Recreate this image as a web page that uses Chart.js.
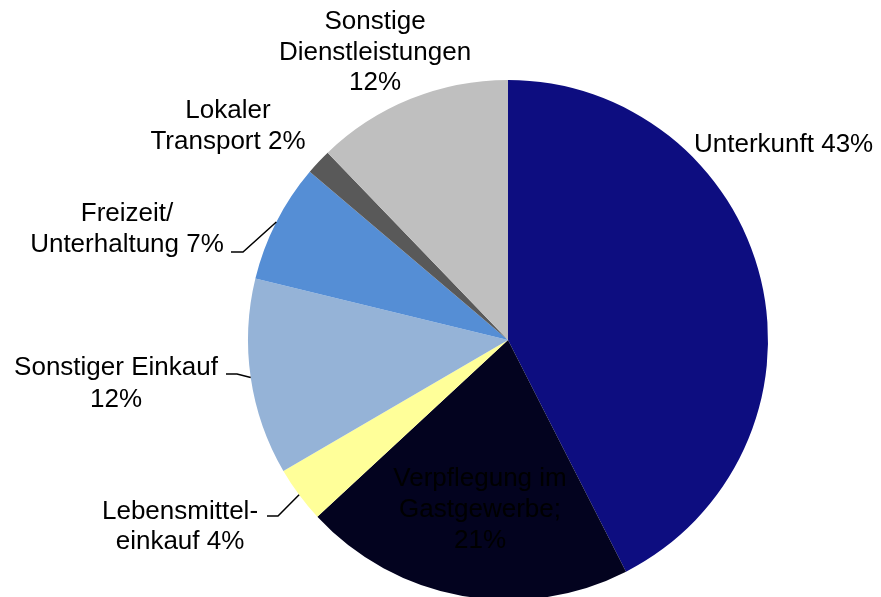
<!DOCTYPE html>
<html>
<head>
<meta charset="utf-8">
<script src="https://cdn.jsdelivr.net/npm/chart.js@4.4.1/dist/chart.umd.min.js"></script>
<style>
  html, body { margin: 0; padding: 0; background: #fff; overflow: hidden; }
  canvas { display: block; }
</style>
</head>
<body>
<canvas id="pieChart" width="881" height="600"></canvas>
<script>
// Slices, clockwise from 12 o'clock
const categories = [
    'Unterkunft',
    'Verpflegung im Gastgewerbe',
    'Lebensmitteleinkauf',
    'Sonstiger Einkauf',
    'Freizeit/Unterhaltung',
    'Lokaler Transport',
    'Sonstige Dienstleistungen'
];
const shares = [42.5, 20.6, 3.5, 12.2, 7.4, 1.6, 12.2];
const sliceColors = ['#0D0D80', '#03031F', '#FFFF99', '#95B3D7', '#558ED5', '#595959', '#BFBFBF'];

// Label text as printed on the chart
const labelLines = [
    ['Unterkunft 43%'],
    ['Verpflegung im', 'Gastgewerbe;', '21%'],
    ['Lebensmittel-', 'einkauf 4%'],
    ['Sonstiger Einkauf', '12%'],
    ['Freizeit/', 'Unterhaltung 7%'],
    ['Lokaler', 'Transport 2%'],
    ['Sonstige', 'Dienstleistungen', '12%']
];

// Where each label sits (first baseline), plus leader line elbow
const labelLayout = [
    { x: 694, y: 152, lh: 31, align: 'left' },
    { x: 480, y: 486, lh: 31 },
    { x: 180, y: 519, lh: 29.5, elbow: [278, 516], tail: 11 },
    { x: 116, y: 375, lh: 31.5, elbow: [237, 374], tail: 11 },
    { x: 127, y: 221, lh: 30.5, elbow: [243, 252], tail: 12 },
    { x: 228, y: 118, lh: 31 },
    { x: 375, y: 29, lh: 30.5 }
];

const sliceLabels = {
    id: 'sliceLabels',
    afterDatasetsDraw(chart) {
        const ctx = chart.ctx;
        const arcs = chart.getDatasetMeta(0).data;
        ctx.save();
        ctx.font = '26px "Liberation Sans", Arial, sans-serif';
        ctx.fillStyle = '#000';
        ctx.strokeStyle = '#000';
        ctx.lineWidth = 1.5;
        labelLayout.forEach((lay, i) => {
            ctx.textAlign = lay.align || 'center';
            labelLines[i].forEach((line, k) => {
                ctx.fillText(line, lay.x, lay.y + k * lay.lh);
            });
            if (lay.elbow) {
                // leader from the slice's outer edge to the label
                const arc = arcs[i];
                const mid = (arc.startAngle + arc.endAngle) / 2;
                const px = arc.x + Math.cos(mid) * arc.outerRadius;
                const py = arc.y + Math.sin(mid) * arc.outerRadius;
                ctx.beginPath();
                ctx.moveTo(px, py);
                ctx.lineTo(lay.elbow[0], lay.elbow[1]);
                ctx.lineTo(lay.elbow[0] - lay.tail, lay.elbow[1]);
                ctx.stroke();
            }
        });
        ctx.restore();
    }
};

const pieChart = new Chart(document.getElementById('pieChart').getContext('2d'), {
    type: 'pie',
    data: {
        labels: categories,
        datasets: [{
            data: shares,
            backgroundColor: sliceColors,
            borderWidth: 0
        }]
    },
    options: {
        responsive: false,
        animation: false,
        layout: {
            padding: { left: 248, right: 113, top: 80, bottom: 0 }
        },
        plugins: {
            legend: { display: false },
            tooltip: { enabled: false }
        }
    },
    plugins: [sliceLabels]
});
</script>
</body>
</html>
